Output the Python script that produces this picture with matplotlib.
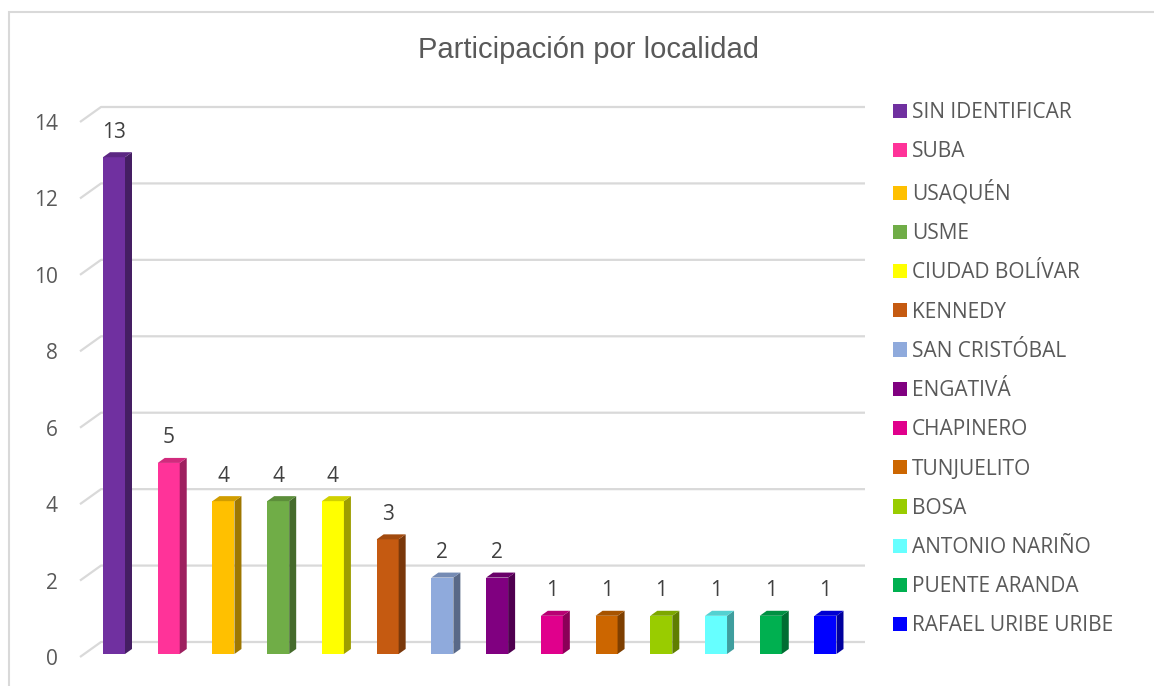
import matplotlib
matplotlib.use("Agg")
import matplotlib.pyplot as plt
from matplotlib.patches import Polygon, Rectangle, Patch
from matplotlib.colors import to_rgb

# data
localidades = ["SIN IDENTIFICAR", "SUBA", "USAQUÉN", "USME", "CIUDAD BOLÍVAR",
               "KENNEDY", "SAN CRISTÓBAL", "ENGATIVÁ", "CHAPINERO", "TUNJUELITO",
               "BOSA", "ANTONIO NARIÑO", "PUENTE ARANDA", "RAFAEL URIBE URIBE"]
participantes = [13, 5, 4, 4, 4, 3, 2, 2, 1, 1, 1, 1, 1, 1]
colores = ["#7030A0", "#FF3399", "#FFC000", "#70AD47", "#FFFF00",
           "#C55A11", "#8FAADC", "#800080", "#E0008C", "#CC6600",
           "#99CC00", "#66FFFF", "#00B050", "#0000FF"]
y_ticks = [0, 2, 4, 6, 8, 10, 12, 14]
titulo = "Participación por localidad"

W, H = 1154, 686
gray_txt = "#595959"
grid_col = "#D9D9D9"

fig = plt.figure(figsize=(W / 100, H / 100), dpi=100)

# outer chart border (only top/left visible in the crop)
fig.add_artist(Rectangle((9 / W, -0.1), 1.2, (H - 12) / H + 0.1,
                         transform=fig.transFigure, fill=False,
                         edgecolor=grid_col, linewidth=1.5))

# axes placed so px 80..865 / 657..122 map to data
ax = fig.add_axes([80 / W, (H - 657) / H, 785 / W, 535 / H])
px_per_cat = 54.73
x_lo = (80 - 114) / px_per_cat
x_hi = (865 - 114) / px_per_cat
ax.set_xlim(x_lo, x_hi)
ax.set_ylim(0, 14)
px_per_val = 535 / 14

for s in ax.spines.values():
    s.set_visible(False)
ax.set_xticks([])
ax.set_yticks(y_ticks)
ax.tick_params(axis="y", length=0, pad=16, labelsize=15, labelcolor=gray_txt)
for lab in ax.get_yticklabels():
    lab.set_fontfamily("Open Sans")

# 3D-ish gridlines: diagonal stub from front to back wall, then horizontal
g_dx = 21 / px_per_cat
g_dy = 15 / px_per_val
for t in y_ticks:
    ax.plot([x_lo, x_lo + g_dx, x_hi], [t, t + g_dy, t + g_dy],
            color=grid_col, linewidth=1.6, clip_on=False, zorder=1,
            solid_capstyle="butt")

# bars with side and top faces
bw = 22 / px_per_cat
b_dx = 7 / px_per_cat
b_dy = 5 / px_per_val
base = 3 / px_per_val


def shade(c, f):
    r, g, b = to_rgb(c)
    return (r * f, g * f, b * f)


for i, (v, c) in enumerate(zip(participantes, colores)):
    x0, x1 = i - bw / 2, i + bw / 2
    top = base + v
    ax.bar(i, v, width=bw, bottom=base, color=c, zorder=3, linewidth=0)
    side = Polygon([(x1, base), (x1 + b_dx, base + b_dy),
                    (x1 + b_dx, top + b_dy), (x1, top)],
                   closed=True, facecolor=shade(c, 0.62), edgecolor="none", zorder=3)
    cap = Polygon([(x0, top), (x0 + b_dx, top + b_dy),
                   (x1 + b_dx, top + b_dy), (x1, top)],
                  closed=True, facecolor=shade(c, 0.82), edgecolor="none", zorder=3)
    ax.add_patch(side)
    ax.add_patch(cap)
    ax.annotate(str(v), (i, top), xytext=(0, 18), textcoords="offset points",
                ha="center", va="center", fontsize=15, color="#404040",
                fontfamily="Open Sans", annotation_clip=False)

# title
fig.text(588 / W, 1 - 50 / H, titulo, ha="center", va="center",
         fontsize=21, color=gray_txt, fontfamily="Liberation Sans")

# legend
handles = [Patch(facecolor=c, edgecolor="none") for c in colores]
fig.legend(handles, localidades, loc="upper left",
           bbox_to_anchor=(893 / W, 1 - 102 / H), frameon=False,
           prop={"family": "Open Sans", "size": 15}, labelcolor=gray_txt,
           handlelength=0.67, handleheight=0.67, handletextpad=0.24,
           labelspacing=0.875, borderpad=0, borderaxespad=0)

fig.savefig("out.png", dpi=100)
